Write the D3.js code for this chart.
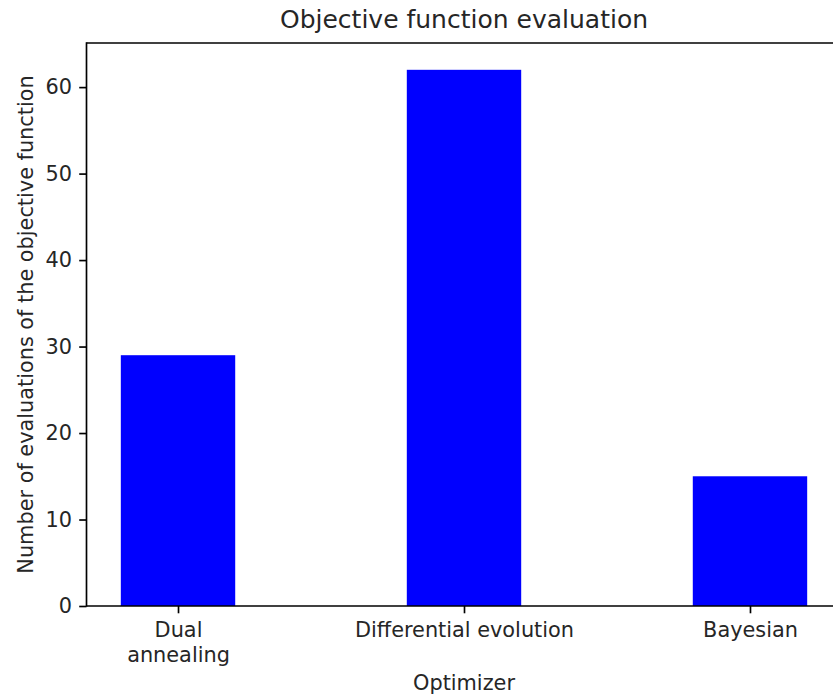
<!DOCTYPE html>
<html>
<head>
<meta charset="utf-8">
<script src="https://cdn.jsdelivr.net/npm/d3@7"></script>
<style>
  body { margin: 0; background: #fff; }
  svg { display: block; }
  text { font-family: "DejaVu Sans", sans-serif; fill: #262626; }
</style>
</head>
<body>
<svg id="chart" width="833" height="697"></svg>
<script>
const categories = ["Dual\nannealing", "Differential evolution", "Bayesian"];
const evaluations = [29, 62, 15];
const yTicks = [0, 10, 20, 30, 40, 50, 60];

(function () {
const pt = 150 / 72;
const mLeft = 86.5, mRight = 841.5, mTop = 43, mBottom = 606;
const tickFont = 10 * pt, titleFont = 12 * pt;
const tickLen = 3.5 * pt, tickPad = 3.5 * pt, lw = 0.8 * pt;
const svg = d3.select("#chart");

// matplotlib-like linear x with bar width 0.4 and 5% margins
const idx = categories.map((d, i) => i);
const barW = 0.4;
const span = (idx.length - 1) + barW;
const xMin = -barW / 2 - span * 0.05, xMax = (idx.length - 1) + barW / 2 + span * 0.05;
const x = d3.scaleLinear().domain([xMin, xMax]).range([mLeft, mRight]);
const yMax = d3.max(evaluations) * 1.05;
const y = d3.scaleLinear().domain([0, yMax]).range([mBottom, mTop]);

// bars
svg.append("g").selectAll("rect").data(evaluations).join("rect")
  .attr("x", (d, i) => x(i - barW / 2))
  .attr("width", (d, i) => x(i + barW / 2) - x(i - barW / 2))
  .attr("y", d => y(d))
  .attr("height", d => y(0) - y(d))
  .attr("fill", "#0000ff");

// y axis
const yAxis = svg.append("g").attr("transform", `translate(${mLeft},0)`)
  .call(d3.axisLeft(y).tickValues(yTicks).tickSize(tickLen).tickPadding(tickPad).tickFormat(d3.format("d")));
yAxis.select(".domain").remove();
yAxis.selectAll("line").attr("stroke", "#000").attr("stroke-width", lw);
yAxis.selectAll("text").attr("font-size", tickFont + "px").attr("fill", "#262626")
  .attr("font-family", "DejaVu Sans");

// x axis
const xAxis = svg.append("g").attr("transform", `translate(0,${mBottom})`)
  .call(d3.axisBottom(x).tickValues(idx).tickSize(tickLen).tickPadding(tickPad).tickFormat(() => ""));
xAxis.select(".domain").remove();
xAxis.selectAll("line").attr("stroke", "#000").attr("stroke-width", lw);
xAxis.selectAll(".tick").each(function(d) {
  const lines = categories[d].split("\n");
  const t = d3.select(this).append("text")
    .attr("text-anchor", "middle")
    .attr("font-size", tickFont + "px")
    .attr("font-family", "DejaVu Sans")
    .attr("fill", "#262626");
  lines.forEach((ln, k) => {
    t.append("tspan").attr("x", 0).attr("y", 30.5 + k * 1.2 * tickFont).text(ln);
  });
});

// spines
const sp = svg.append("g").attr("stroke", "#000").attr("stroke-width", lw).attr("fill", "none");
sp.append("line").attr("x1", mLeft).attr("x2", mLeft).attr("y1", mTop - lw / 2).attr("y2", mBottom + lw / 2);
sp.append("line").attr("x1", mLeft).attr("x2", mRight).attr("y1", mBottom).attr("y2", mBottom);
sp.append("line").attr("x1", mLeft).attr("x2", mRight).attr("y1", mTop).attr("y2", mTop);
sp.append("line").attr("x1", mRight).attr("x2", mRight).attr("y1", mTop).attr("y2", mBottom);

// title and labels
svg.append("text").attr("x", (mLeft + mRight) / 2).attr("y", 28)
  .attr("text-anchor", "middle").attr("font-size", titleFont + "px").text("Objective function evaluation");
svg.append("text").attr("x", (mLeft + mRight) / 2).attr("y", 690)
  .attr("text-anchor", "middle").attr("font-size", tickFont + "px").text("Optimizer");
svg.append("text").attr("transform", `translate(32.5,${(mTop + mBottom) / 2}) rotate(-90)`)
  .attr("text-anchor", "middle").attr("font-size", tickFont + "px")
  .text("Number of evaluations of the objective function");
})();
</script>
</body>
</html>
